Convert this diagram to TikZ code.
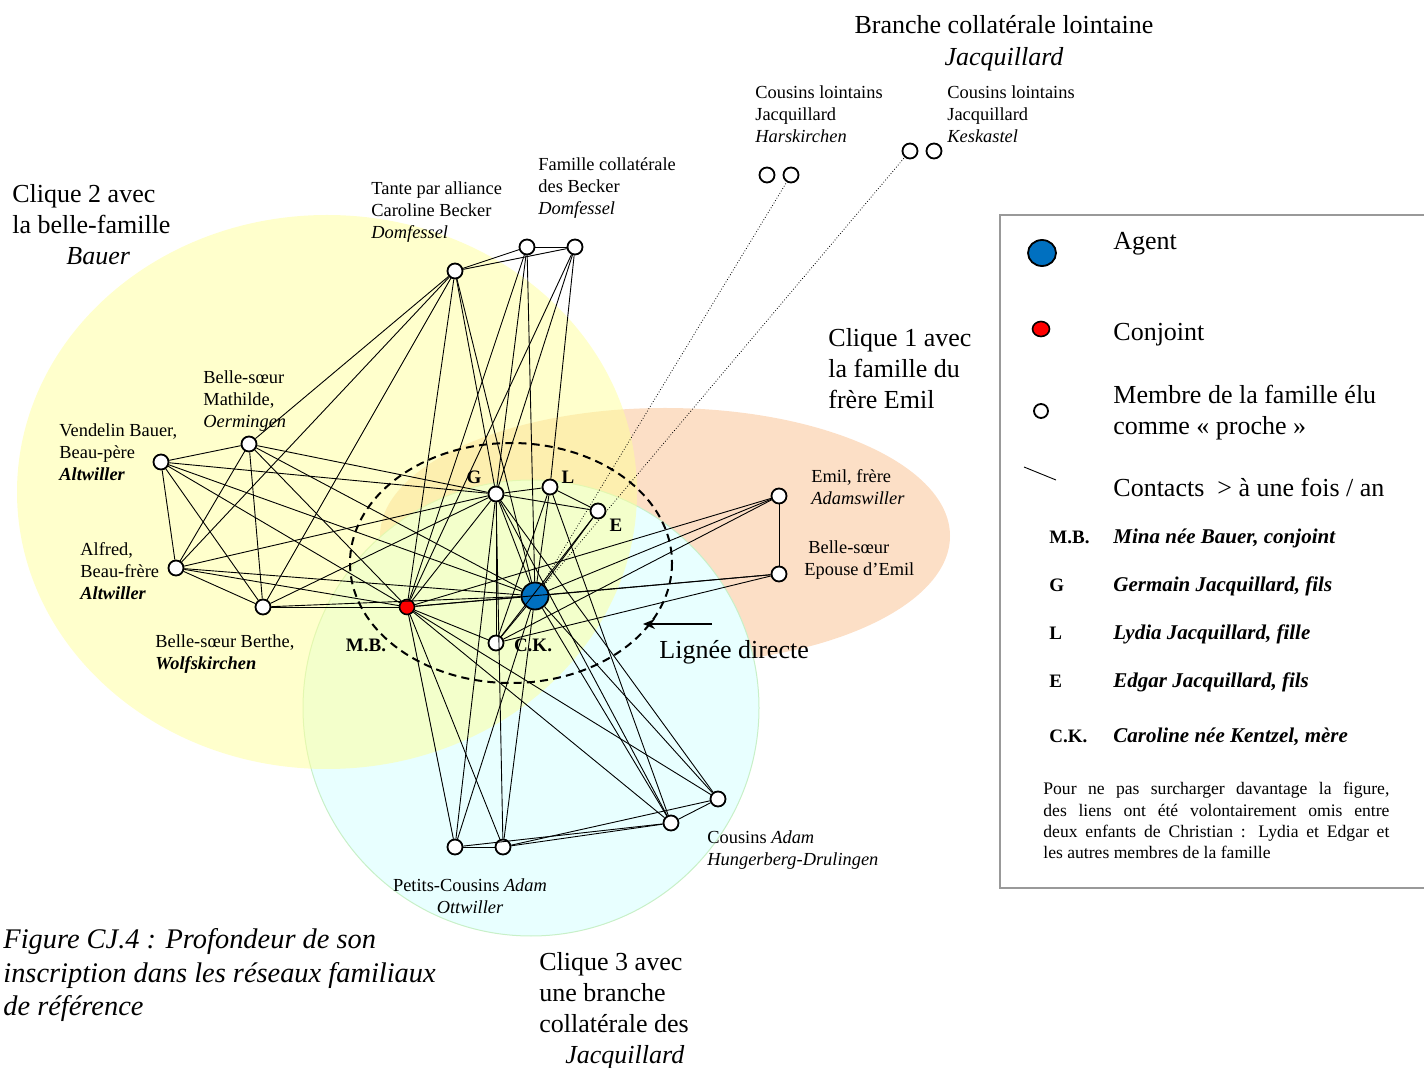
\documentclass[tikz,border=0pt]{standalone}
\usepackage{fontspec}
\setmainfont{Liberation Serif}
\usetikzlibrary{arrows.meta, positioning}

\definecolor{jaune}{HTML}{FFFF99}
\definecolor{peche}{HTML}{FCDFC6}
\definecolor{cyanpale}{HTML}{E8FFFF}
\definecolor{bordcyan}{HTML}{C8F0C8}
\definecolor{bleuagent}{HTML}{0070C0}
\definecolor{gris}{HTML}{999999}

\begin{document}
\begin{tikzpicture}[x=0.5pt, y=-0.5pt,
    famille/.style={circle, draw, line width=0.9pt, fill=white, minimum size=7.5pt, inner sep=0pt},
    lointain/.style={circle, draw, line width=0.9pt, minimum size=7.5pt, inner sep=0pt},
    ego/.style={circle, draw, line width=0.9pt, fill=bleuagent, minimum size=13.5pt, inner sep=0pt},
    epouse/.style={circle, draw, line width=0.8pt, fill=red, minimum size=7.5pt, inner sep=0pt},
    lien/.style={line width=0.45pt},
    lienloin/.style={line width=0.4pt, densely dotted},
    petit/.style={font=\fontsize{9.2}{11}\selectfont, align=left, anchor=north west, inner sep=0pt},
    grand/.style={font=\fontsize{13}{15.5}\selectfont, align=left, anchor=north west, inner sep=0pt},
    lettre/.style={font=\fontsize{9.5}{11}\selectfont\bfseries, inner sep=0pt},
    legende/.style={font=\fontsize{10.5}{12}\selectfont\bfseries\itshape, anchor=base west, inner sep=0pt}]
    \useasboundingbox (0,0) rectangle (1424,1068);

    % Cliques
    \fill[peche] (665,536) ellipse [x radius=285, y radius=128];
    \filldraw[fill=cyanpale, draw=bordcyan, line width=0.5pt] (531,708) circle [radius=228];
    \fill[jaune, opacity=0.5] (327,492) ellipse [x radius=310, y radius=277];

    % Lignee directe
    \draw[dashed, dash pattern=on 4pt off 2.6pt, line width=1pt] (511,563) ellipse [x radius=161, y radius=120];

    % Nodes
    \node[famille] (tante) at (455,271) {};
    \node[famille] (becA) at (527,247) {};
    \node[famille] (becB) at (575,247) {};
    \node[famille] (mathilde) at (249,444) {};
    \node[famille] (vendelin) at (161,462) {};
    \node[famille] (alfred) at (176,568) {};
    \node[famille] (berthe) at (263,607) {};
    \node[epouse] (mb) at (407,607) {};
    \node[famille] (g) at (496,494) {};
    \node[famille] (l) at (550,487) {};
    \node[famille] (e) at (598,511) {};
    \node[ego] (agent) at (535,596) {};
    \node[famille] (ck) at (496,643) {};
    \node[famille] (emil) at (779,496) {};
    \node[famille] (bsemil) at (779,574) {};
    \node[famille] (pcA) at (455,847) {};
    \node[famille] (pcB) at (503,847) {};
    \node[famille] (cadA) at (671,823) {};
    \node[famille] (cadB) at (718,799) {};
    \node[lointain] (harA) at (767,175) {};
    \node[lointain] (harB) at (791,175) {};
    \node[lointain] (kesA) at (910,151) {};
    \node[lointain] (kesB) at (934,151) {};

    % Contacts
    \foreach \a/\b in {tante/mathilde, tante/alfred, tante/berthe, tante/mb, tante/g, tante/agent, tante/becA, tante/becB,
        becA/becB, becA/mb, becA/g, becA/agent, becB/mb, becB/g, becB/l,
        vendelin/mathilde, vendelin/alfred, vendelin/berthe, vendelin/mb, vendelin/g, vendelin/agent,
        mathilde/alfred, mathilde/berthe, mathilde/mb, mathilde/g, mathilde/agent,
        alfred/berthe, alfred/mb, alfred/g, alfred/agent, berthe/mb, berthe/g, berthe/agent,
        mb/agent, mb/g, mb/ck, mb/emil, mb/bsemil, mb/pcA, mb/pcB, mb/cadA, mb/cadB,
        g/l, g/e, g/ck, g/agent, g/cadA, g/cadB, g/pcA, g/pcB,
        l/e, l/agent, l/ck, l/cadA, e/agent, e/ck,
        agent/ck, agent/emil, agent/bsemil, agent/pcA, agent/pcB, agent/cadA, agent/cadB,
        ck/emil, ck/bsemil, emil/bsemil, pcA/pcB, pcA/cadA, pcB/cadA, pcB/cadB, cadA/cadB}
        \draw[lien] (\a) -- (\b);
    \draw[lienloin] (agent) -- (harB);
    \draw[lienloin] (agent) -- (kesA);

    % Letters
    \node[lettre] (lblG) at (474,477) {G};
    \node[lettre] (lblL) at (568,477) {L};
    \node[lettre] (lblE) at (616,525) {E};
    \node[lettre] (lblMB) at (366,645) {M.B.};
    \node[lettre] (lblCK) at (533,645) {C.K.};

    % Labels
    \node[grand, align=center, anchor=north, font=\fontsize{13}{16}\selectfont] (titre) at (1004,15) {Branche collatérale lointaine\\\textit{Jacquillard}};
    \node[petit] (txtHar) at (755,85) {Cousins lointains\\Jacquillard\\\textit{Harskirchen}};
    \node[petit] (txtKes) at (947,85) {Cousins lointains\\Jacquillard\\\textit{Keskastel}};
    \node[petit] (txtBec) at (538,157) {Famille collatérale\\des Becker\\\textit{Domfessel}};
    \node[petit] (txtTante) at (371,181) {Tante par alliance\\Caroline Becker\\\textit{Domfessel}};
    \node[grand] (clique2) at (12,184) {Clique 2 avec\\la belle-famille\\\hspace*{27pt}\textit{Bauer}};
    \node[petit] (txtMat) at (203,370) {Belle-sœur\\Mathilde,\\\textit{Oermingen}};
    \node[petit] (txtVen) at (59,423) {Vendelin Bauer,\\Beau-père\\\textbf{\textit{Altwiller}}};
    \node[petit] (txtAlf) at (80,542) {Alfred,\\Beau-frère\\\textbf{\textit{Altwiller}}};
    \node[petit] (txtBer) at (155,634) {Belle-sœur Berthe,\\\textbf{\textit{Wolfskirchen}}};
    \node[grand] (clique1) at (828,328) {Clique 1 avec\\la famille du\\frère Emil};
    \node[petit] (txtEmil) at (811,469) {Emil, frère\\\textit{Adamswiller}};
    \node[petit] (txtBs) at (804,540) {\hspace*{2pt}Belle-sœur\\Epouse d’Emil};
    \node[grand] (txtLig) at (659,640) {Lignée directe};
    \node[petit] (txtCad) at (707,830) {Cousins \textit{Adam}\\\textit{Hungerberg-Drulingen}};
    \node[petit, align=center, anchor=north] (txtPc) at (470,878) {Petits-Cousins \textit{Adam}\\\textit{Ottwiller}};
    \node[grand] (clique3) at (539,952) {Clique 3 avec\\une branche\\collatérale des\\\hspace*{13pt}\textit{Jacquillard}};
    \node[grand, font=\fontsize{14.2}{16.8}\selectfont\itshape] (legendeFig) at (3,928) {Figure CJ.4 : Profondeur de son\\inscription dans les réseaux familiaux\\de référence};

    \coordinate (flecheDebut) at (712,624);
    \coordinate (flecheFin) at (643,624);
    \draw[line width=1pt, -{Stealth[length=6pt, width=5pt]}] (flecheDebut) -- (flecheFin);

    % Legend
    \draw[gris, line width=0.8pt] (1000,215) rectangle (1440,888);
    \draw[line width=0.9pt, fill=bleuagent] (1042,253) ellipse [x radius=14, y radius=13];
    \draw[line width=0.8pt, fill=red] (1041,329) ellipse [x radius=8.5, y radius=7.5];
    \draw[line width=0.9pt, fill=white] (1041,411) circle [radius=7];
    \coordinate (legLienA) at (1024,467);
    \coordinate (legLienB) at (1056,480);
    \draw[lien] (legLienA) -- (legLienB);
    \node[grand] (legAgent) at (1113,232) {Agent};
    \node[grand] (legConj) at (1113,323) {Conjoint};
    \node[grand] (legMembre) at (1113,385) {Membre de la famille élu\\comme « proche »};
    \node[grand] (legContact) at (1113,478) {Contacts~ > à une fois / an};
    \foreach \y/\abr/\nom in {544/M.B./{Mina née Bauer, conjoint}, 592/G/{Germain Jacquillard, fils},
        640/L/{Lydia Jacquillard, fille}, 688/E/{Edgar Jacquillard, fils}, 743/C.K./{Caroline née Kentzel, mère}} {
        \node[lettre, anchor=base west] at (1049,\y) {\abr};
        \node[legende] at (1113,\y) {\nom};
    }
    \node[anchor=north west, inner sep=0pt, font=\fontsize{8.8}{10.65}\selectfont] (note) at (1043,782)
        {\parbox{173pt}{Pour ne pas surcharger davantage la figure,\linebreak des liens ont été volontairement omis entre\linebreak deux enfants de Christian : Lydia et Edgar et\linebreak les autres membres de la famille}};
\end{tikzpicture}
\end{document}
